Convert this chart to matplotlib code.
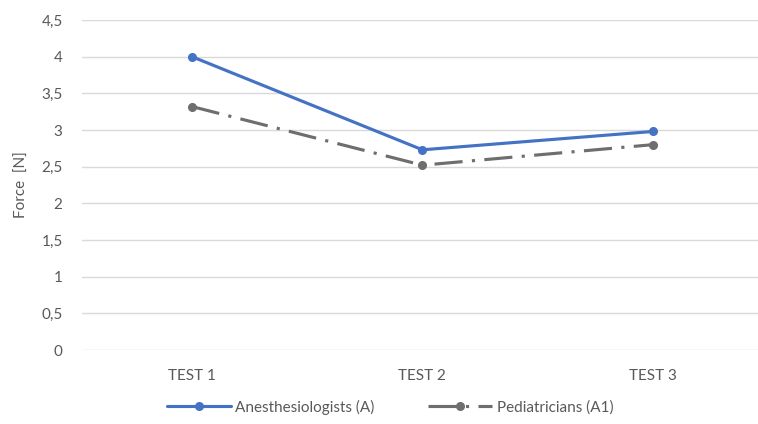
import matplotlib.pyplot as plt

tests = ["TEST 1", "TEST 2", "TEST 3"]
anesthesiologists = [4.0, 2.73, 2.98]
pediatricians = [3.32, 2.52, 2.8]

plt.rcParams['font.family'] = ['Lato', 'DejaVu Sans']
text_color = '#595959'

fig = plt.figure(figsize=(7.58, 4.24), dpi=100)
ax = fig.add_axes([82 / 758, 74 / 424, 1 - 82 / 758, 330 / 424])

x = range(len(tests))
ax.plot(x, anesthesiologists, color='#4472C4', lw=2.25, marker='o', ms=5.5,
        label='Anesthesiologists (A)', solid_capstyle='round')
ax.plot(x, pediatricians, color='#6e6e6e', lw=2.25, marker='o', ms=5.5,
        linestyle=(0, (9, 3, 1, 3)), label='Pediatricians (A1)')

ax.set_ylim(0, 4.5)
ax.set_xlim(-0.477, 2.456)
yt = [i * 0.5 for i in range(10)]
ax.set_yticks(yt)
ax.set_yticklabels([('%g' % v).replace('.', ',') for v in yt])
ax.set_xticks(list(x))
ax.set_xticklabels(tests)
ax.tick_params(length=0, labelsize=11, colors=text_color)
ax.tick_params(axis='y', pad=14)
ax.tick_params(axis='x', pad=14)
ax.grid(axis='y', color='#d9d9d9', lw=1)
ax.set_axisbelow(True)
for s in ax.spines.values():
    s.set_visible(False)

fig.text(22 / 758, 1 - 185 / 424, 'Force  [N]', rotation=90, ha='center', va='center',
         fontsize=11, color=text_color)

leg = fig.legend(loc='center', bbox_to_anchor=(390 / 758, 1 - 407 / 424), ncol=2,
                 frameon=False, fontsize=11, handlelength=4.2, columnspacing=3.5,
                 handletextpad=0.3)
for t in leg.get_texts():
    t.set_color(text_color)

fig.savefig('out.png', dpi=100)
